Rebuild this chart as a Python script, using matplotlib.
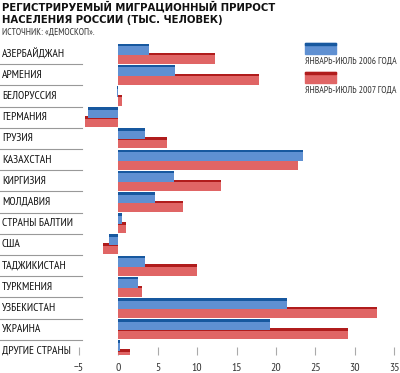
import numpy as np
import matplotlib
matplotlib.use('Agg')
import matplotlib.pyplot as plt
from matplotlib.transforms import blended_transform_factory

# DATA
countries = ['АЗЕРБАЙДЖАН', 'АРМЕНИЯ', 'БЕЛОРУССИЯ', 'ГЕРМАНИЯ', 'ГРУЗИЯ',
             'КАЗАХСТАН', 'КИРГИЗИЯ', 'МОЛДАВИЯ', 'СТРАНЫ БАЛТИИ', 'США',
             'ТАДЖИКИСТАН', 'ТУРКМЕНИЯ', 'УЗБЕКИСТАН', 'УКРАИНА', 'ДРУГИЕ СТРАНЫ']
val_2006 = [3.9, 7.2, -0.2, -3.9, 3.4, 23.4, 7.0, 4.7, 0.5, -1.2, 3.4, 2.5, 21.4, 19.3, 0.2]
val_2007 = [12.3, 17.8, 0.5, -4.2, 6.2, 22.8, 13.0, 8.2, 1.0, -1.9, 10.0, 3.0, 32.8, 29.2, 1.5]
labels = ['ЯНВАРЬ-ИЮЛЬ 2006 ГОДА', 'ЯНВАРЬ-ИЮЛЬ 2007 ГОДА']
xticks = [-5, 0, 5, 10, 15, 20, 25, 30, 35]

narrow = ['PT Sans Narrow', 'DejaVu Sans']
blue, blue_dk = '#5f90d2', '#17589f'
red, red_dk = '#e06565', '#b01c1c'

fig = plt.figure(figsize=(4.0, 3.73), dpi=100)
ax = fig.add_axes([79 / 400, 1 - 355 / 373, 315 / 400, 315 / 373])

y = np.arange(len(countries))
h = 0.52
off = 0.21
# red bars behind, blue on top, each with a darker top edge
ax.barh(y + off, val_2007, height=h, color=red, zorder=2)
ax.barh(y + off - h / 2 + 0.06, val_2007, height=0.12, color=red_dk, zorder=2)
ax.barh(y - off, val_2006, height=h, color=blue, zorder=3)
ax.barh(y - off - h / 2 + 0.06, val_2006, height=0.12, color=blue_dk, zorder=3)

ax.set_xlim(-5, 35)
ax.set_ylim(14.22, -0.64)
for s in ax.spines.values():
    s.set_visible(False)
ax.set_yticks([])
ax.set_xticks(xticks)
ax.set_xticklabels(['−5' if t < 0 else str(t) for t in xticks], family=narrow,
                   fontsize=8.5, color='#333333')
ax.tick_params(axis='x', direction='in', length=6, width=0.8, color='#aaaaaa', pad=6)

# country labels and separators
tr = blended_transform_factory(fig.transFigure, ax.transData)
for i, c in enumerate(countries):
    fig.text(2 / 400, i, c, transform=tr, family=narrow, fontsize=8.3,
             va='center', ha='left', color='#111111')
    if i < len(countries) - 1:
        fig.add_artist(plt.Line2D([0, 82 / 400], [i + 0.5, i + 0.5], transform=tr,
                                  color='#999999', lw=0.8))

# title and source
fig.text(2 / 400, 1 - 7 / 373, 'РЕГИСТРИРУЕМЫЙ МИГРАЦИОННЫЙ ПРИРОСТ',
         fontsize=7.3, fontweight='heavy', va='center', color='#111111')
fig.text(2 / 400, 1 - 20 / 373, 'НАСЕЛЕНИЯ РОССИИ (ТЫС. ЧЕЛОВЕК)',
         fontsize=7.3, fontweight='heavy', va='center', color='#111111')
fig.text(2 / 400, 1 - 32 / 373, 'ИСТОЧНИК: «ДЕМОСКОП».', family=narrow,
         fontsize=6.9, va='center', color='#333333')

# legend
for k, (fc, ec, top) in enumerate([(blue, blue_dk, 43), (red, red_dk, 72)]):
    fig.add_artist(plt.Rectangle((305 / 400, 1 - (top + 11) / 373), 31 / 400, 11 / 373,
                                 transform=fig.transFigure, color=fc))
    fig.add_artist(plt.Rectangle((305 / 400, 1 - (top + 2) / 373), 31 / 400, 2 / 373,
                                 transform=fig.transFigure, color=ec))
    fig.text(305 / 400, 1 - (top + 18) / 373, labels[k], family=narrow,
             fontsize=6.9, va='center', color='#333333')

fig.savefig('out.png', dpi=100)
